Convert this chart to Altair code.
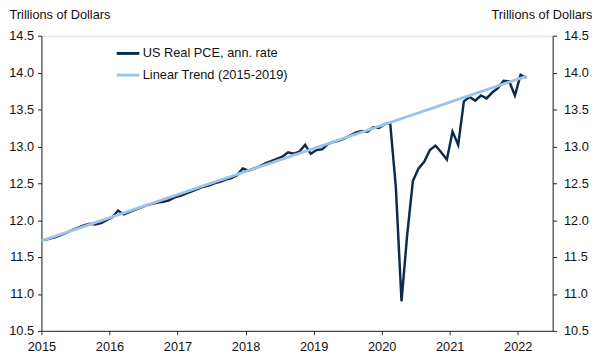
import altair as alt
import pandas as pd

# ---- data ----
pce_months = [f"{y}-{m:02d}" for y in range(2015, 2023) for m in range(1, 13)][:86]
pce_values = [
    11.73, 11.75, 11.77, 11.80, 11.83, 11.87, 11.90, 11.93, 11.95, 11.94, 11.96, 12.00,  # 2015
    12.04, 12.13, 12.08, 12.11, 12.14, 12.17, 12.20, 12.22, 12.24, 12.25, 12.27, 12.31,  # 2016
    12.33, 12.36, 12.39, 12.42, 12.45, 12.47, 12.50, 12.52, 12.55, 12.57, 12.61, 12.70,  # 2017
    12.67, 12.70, 12.73, 12.77, 12.80, 12.83, 12.86, 12.92, 12.90, 12.93, 13.02, 12.90,  # 2018
    12.95, 12.96, 13.03, 13.06, 13.08, 13.11, 13.15, 13.19, 13.21, 13.20, 13.26, 13.25,  # 2019
    13.30, 13.32, 12.45, 10.90, 11.80, 12.53, 12.70, 12.79, 12.95, 13.01, 12.92, 12.82,  # 2020
    13.20, 13.02, 13.61, 13.67, 13.62, 13.69, 13.65, 13.73, 13.79, 13.89, 13.88, 13.69,  # 2021
    13.97, 13.93,                                                                        # 2022
]
trend_points = [2015.0, 2022.125]      # decimal years
trend_values = [11.72, 13.95]
year_ticks = list(range(2015, 2023))
y_ticks = [10.5, 11.0, 11.5, 12.0, 12.5, 13.0, 13.5, 14.0, 14.5]

S1 = "US Real PCE, ann. rate"
S2 = "Linear Trend (2015-2019)"


def dec_year(s):
    y, m = s.split("-")
    return int(y) + (int(m) - 0.5) / 12


df_pce = pd.DataFrame({"t": [dec_year(s) for s in pce_months], "v": pce_values, "series": S1})
df_tr = pd.DataFrame({"t": trend_points, "v": trend_values, "series": S2})

FONT = "Liberation Sans"
TXT = "#111111"

x_enc = alt.X(
    "t:Q",
    scale=alt.Scale(domain=[2015, 2022.513], nice=False, zero=False),
    axis=alt.Axis(values=year_ticks, format="d", title=None, labelFlush=False,
                  tickSize=4, labelPadding=6, grid=False, labelFontSize=13,
                  labelColor=TXT, domainColor="#222", tickColor="#222"),
)
y_scale = alt.Scale(domain=[10.5, 14.5], nice=False, zero=False)

color_scale = alt.Scale(domain=[S1, S2], range=["#0c2a4d", "#9dc3e6"])
legend = alt.Legend(title=None, orient="none", legendX=75, legendY=5,
                    symbolType="stroke", symbolStrokeWidth=3, symbolSize=529,
                    labelFontSize=13, labelColor=TXT, labelOffset=2,
                    rowPadding=2, padding=0, labelFont=FONT)

common_axis = dict(values=y_ticks, format=".1f", grid=False, labelFontSize=13,
                   labelColor=TXT, domainColor="#222", tickColor="#222",
                   title="Trillions of Dollars", titleAngle=0, titleBaseline="middle",
                   titleY=-21, titleFontSize=13, titleFontWeight="normal",
                   titleColor=TXT, titleFont=FONT, labelFont=FONT)

pce = alt.Chart(df_pce).mark_line(strokeWidth=2.5).encode(
    x=x_enc,
    y=alt.Y("v:Q", scale=y_scale,
            axis=alt.Axis(orient="left", tickSize=4, labelPadding=4,
                          titleAlign="left", titleX=-33, **common_axis)),
    color=alt.Color("series:N", scale=color_scale, legend=legend),
)

trend = alt.Chart(df_tr).mark_line(strokeWidth=3).encode(
    x=x_enc,
    y=alt.Y("v:Q", scale=y_scale,
            axis=alt.Axis(orient="right", tickSize=4, labelPadding=7,
                          titleAlign="right", titleX=40, **common_axis)),
    color=alt.Color("series:N", scale=color_scale, legend=legend),
)

chart = (
    alt.layer(pce, trend)
    .resolve_scale(y="independent")
    .properties(
        width=519.7,
        height=300,
        autosize=alt.AutoSizeParams(type="none"),
        padding={"left": 34, "top": 25.3, "right": 40, "bottom": 22},
        background="white",
    )
    .configure_view(stroke=None)
    .configure(font=FONT)
)

chart.save("out.html", embed_options={"renderer": "svg", "actions": False})
